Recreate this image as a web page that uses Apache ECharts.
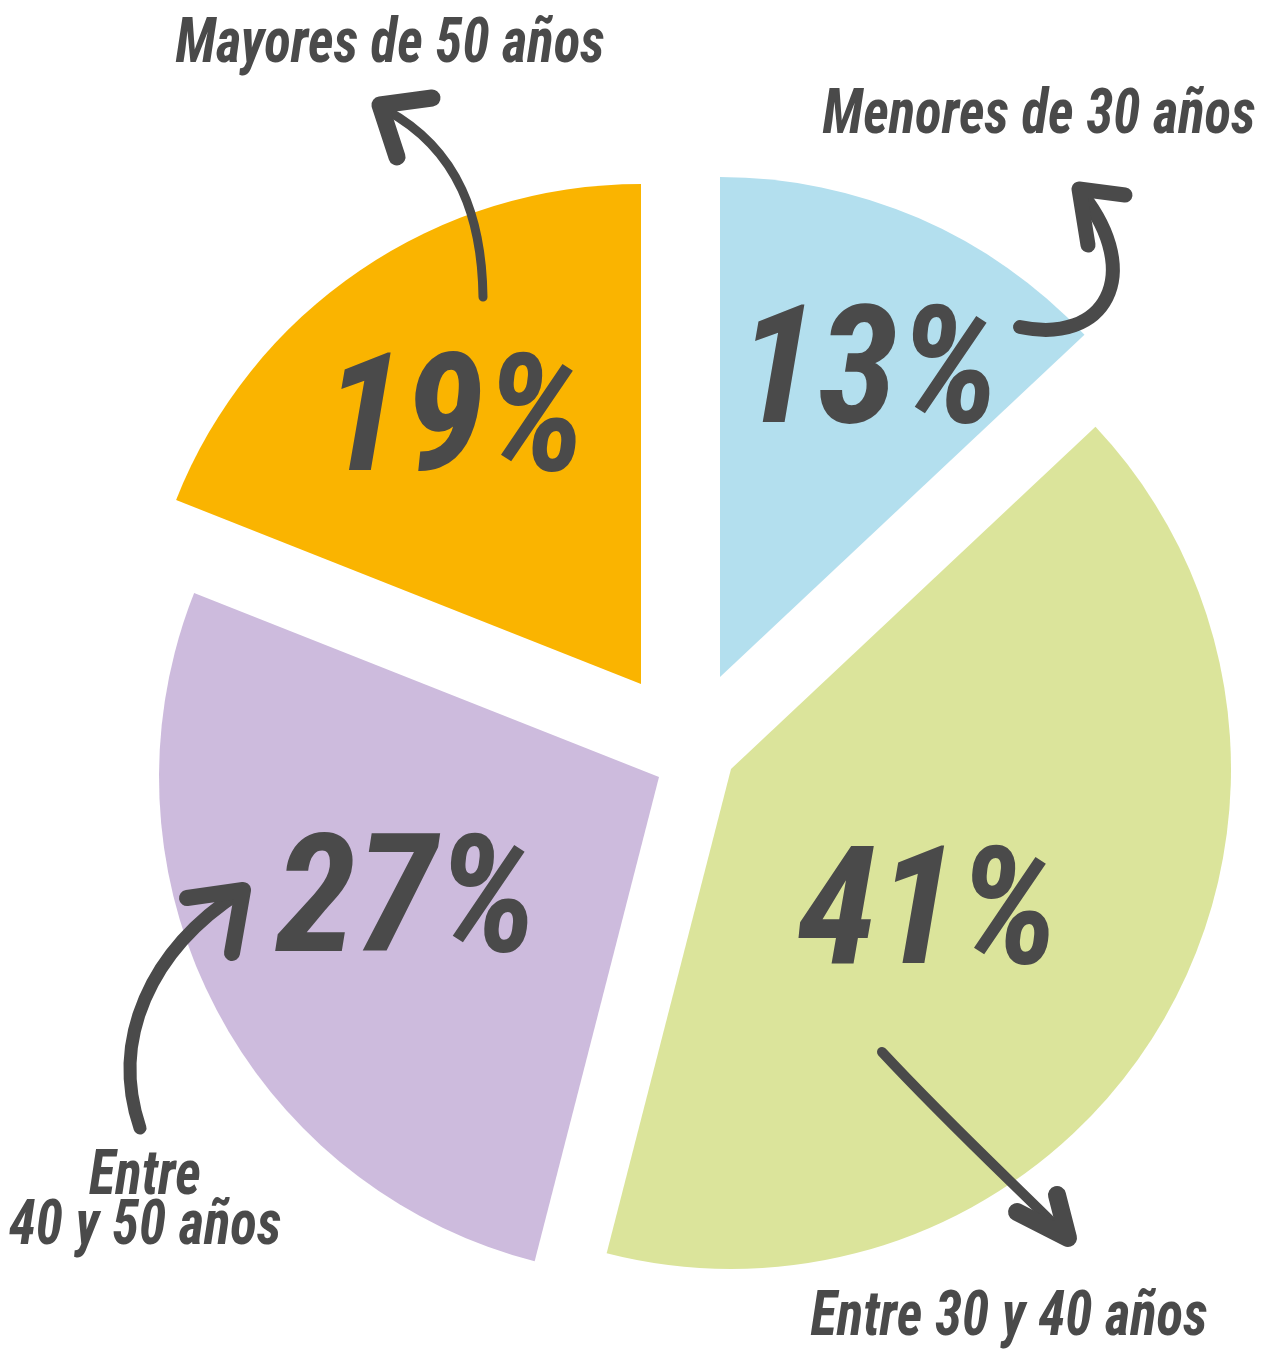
<!DOCTYPE html>
<html>
<head>
<meta charset="utf-8">
<script src="https://cdn.jsdelivr.net/npm/echarts@6/dist/echarts.min.js"></script>
<style>
html,body{margin:0;padding:0;background:#ffffff;}
#chart{width:1270px;height:1355px;}
</style>
</head>
<body>
<div id="chart"></div>
<script>
// ---- data ----
const categories = ['Menores de 30 años', 'Entre 30 y 40 años', 'Entre 40 y 50 años', 'Mayores de 50 años'];
const values = [13, 41, 27, 19];
const nameLabels = ['Menores de 30 años', 'Entre 30 y 40 años', 'Entre\n40 y 50 años', 'Mayores de 50 años'];

// ---- style / layout ----
const colors = ['#b3dfee', '#dbe49b', '#cdbbdd', '#fab400'];
const textColor = '#4a4a4a';
const fontFamily = '"Roboto Condensed", "Noto Sans Condensed", "DejaVu Sans Condensed", "Liberation Sans", sans-serif';
const sliceCenters = [[720, 677], [731, 769], [659, 777], [641, 684]];
const sliceRadius = 500;
const percentOffsets = [[48, -64], [-21, 24], [-27, 18], [-44, -46]];
const nameLabelPos = [[1039, 117], [1009, 1319], [145, 1203], [390, 46]];
const arrows = [
  { curve: [1020, 327, 1105, 345, 1145, 275, 1082, 194], head: [[1125, 195], [1079, 189], [1088, 245]], w: 14, hw: 15 },
  { curve: [882, 1052, 950, 1125, 1010, 1180, 1066, 1236], head: [[1017, 1212], [1068, 1238], [1057, 1195]], w: 10, hw: 18 },
  { curve: [140, 1128, 110, 1040, 150, 950, 240, 892], head: [[187, 898], [243, 890], [232, 953]], w: 13, hw: 16 },
  { curve: [483, 297, 482, 220, 460, 150, 386, 110], head: [[432, 98], [380, 105], [397, 157]], w: 9, hw: 17 }
];

const series = categories.map((cat, i) => ({
  type: 'pie',
  center: sliceCenters[i],
  radius: sliceRadius,
  startAngle: 90,
  clockwise: true,
  silent: true,
  avoidLabelOverlap: false,
  emphasis: { disabled: true },
  labelLine: { show: false },
  labelLayout: { dx: percentOffsets[i][0], dy: percentOffsets[i][1] },
  data: values.map((v, j) => ({
    name: categories[j],
    value: v,
    itemStyle: { color: j === i ? colors[j] : 'rgba(0,0,0,0)' },
    label: {
      show: j === i,
      position: 'inside',
      formatter: '{c}%',
      color: textColor,
      fontFamily: fontFamily,
      fontStyle: 'italic',
      fontWeight: 'bold',
      fontSize: 164
    }
  }))
}));

const graphics = [];
nameLabels.forEach((t, i) => {
  graphics.push({
    type: 'text', x: nameLabelPos[i][0], y: nameLabelPos[i][1], z: 100,
    scaleX: 0.89, scaleY: 1,
    style: {
      text: t, fill: textColor, fontFamily: fontFamily, fontStyle: 'italic', fontWeight: 'bold',
      fontSize: 62, lineHeight: 50, align: 'center', verticalAlign: 'middle'
    }
  });
});
arrows.forEach(a => {
  const c = a.curve;
  graphics.push({
    type: 'bezierCurve', z: 100,
    shape: { x1: c[0], y1: c[1], cpx1: c[2], cpy1: c[3], cpx2: c[4], cpy2: c[5], x2: c[6], y2: c[7] },
    style: { stroke: textColor, lineWidth: a.w, lineCap: 'round', fill: null }
  });
  graphics.push({
    type: 'polyline', z: 100,
    shape: { points: a.head },
    style: { stroke: textColor, lineWidth: a.hw, lineCap: 'round', lineJoin: 'round', fill: null }
  });
});

const chart = echarts.init(document.getElementById('chart'), null, { renderer: 'canvas' });
chart.setOption({
  backgroundColor: '#ffffff',
  animation: false,
  series: series,
  graphic: graphics
});
</script>
</body>
</html>
